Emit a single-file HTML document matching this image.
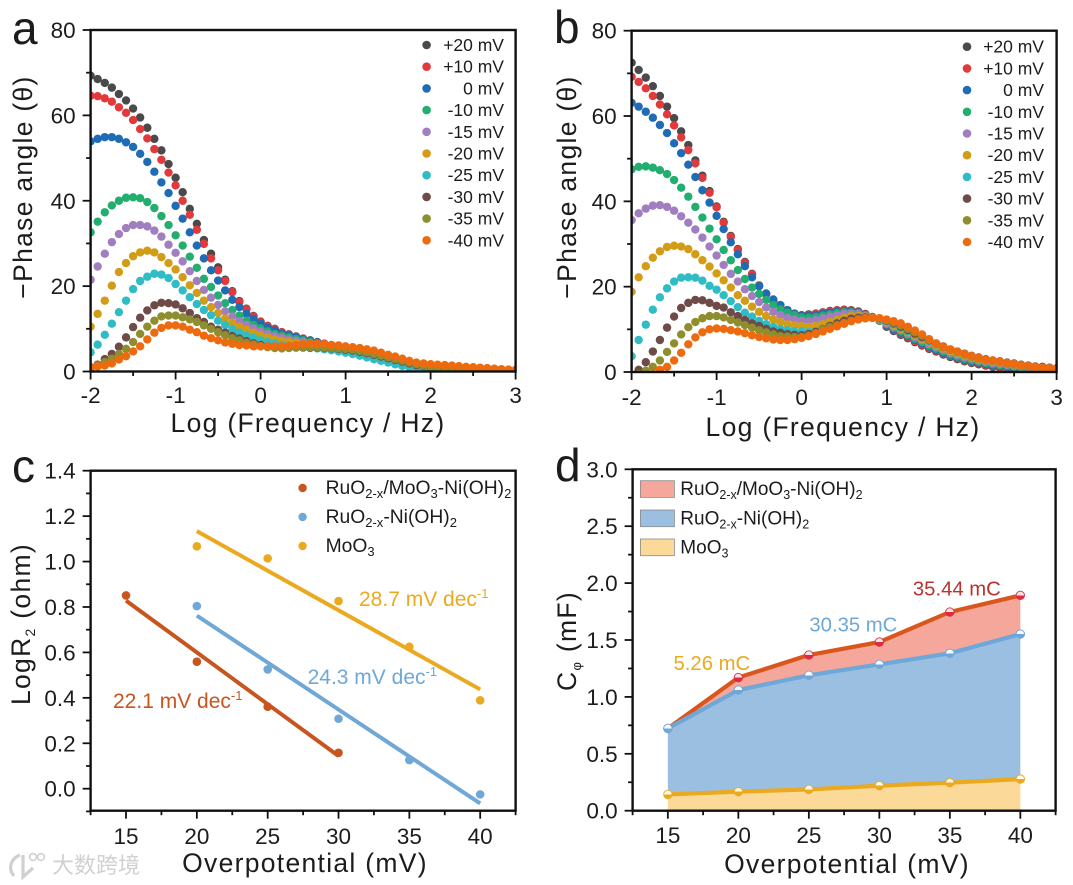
<!DOCTYPE html>
<html lang="en">
<head>
<meta charset="utf-8">
<title>Phase angle and capacitance charts</title>
<style>
html,body{margin:0;padding:0;background:#fff;}
svg{display:block;font-family:"Liberation Sans","Noto Sans CJK SC",sans-serif;fill:#1c1c1c;}
.tick-label{font-size:22.5px;}
.title{font-size:26.5px;letter-spacing:1.3px;}
.panel-letter{font-size:46px;}
.legend-small{font-size:17.5px;}
.legend-big{font-size:19.3px;}
.note{font-size:21px;}
.note-d{font-size:20.3px;}
</style>
</head>
<body>
<svg id="figure" xmlns="http://www.w3.org/2000/svg" width="1073" height="885" viewBox="0 0 1073 885">
  <defs>
    <clipPath id="clip-a"><rect x="90.6" y="30" width="425" height="341.5"/></clipPath>
    <clipPath id="clip-b"><rect x="631.6" y="30.7" width="425" height="341.3"/></clipPath>
    <linearGradient id="half-red" x1="0" y1="0" x2="0" y2="1"><stop offset="0.5" stop-color="#fbe3e3"/><stop offset="0.5" stop-color="#dc2b45"/></linearGradient>
    <linearGradient id="half-blue" x1="0" y1="0" x2="0" y2="1"><stop offset="0.5" stop-color="#f6fafd"/><stop offset="0.5" stop-color="#6fa8d8"/></linearGradient>
    <linearGradient id="half-yellow" x1="0" y1="0" x2="0" y2="1"><stop offset="0.5" stop-color="#fff8e6"/><stop offset="0.5" stop-color="#eba91f"/></linearGradient>
  </defs>

  <text class="panel-letter" x="12" y="44">a</text>
  <text class="panel-letter" x="554" y="43">b</text>
  <text class="panel-letter" x="12" y="482">c</text>
  <text class="panel-letter" x="555" y="481">d</text>

  <text class="title" text-anchor="middle" transform="translate(32 187) rotate(-90)">−Phase angle (θ)</text>
  <text class="title" text-anchor="middle" transform="translate(576 187) rotate(-90)">−Phase angle (θ)</text>
  <text class="title" text-anchor="middle" x="308" y="432">Log (Frequency / Hz)</text>
  <text class="title" text-anchor="middle" x="843" y="436">Log (Frequency / Hz)</text>

  <text class="title" text-anchor="middle" transform="translate(30 624) rotate(-90)">LogR<tspan font-size="14" dy="5">2</tspan><tspan dy="-5"> (ohm)</tspan></text>
  <text class="title" text-anchor="middle" x="305" y="872">Overpotential (mV)</text>
  <text class="title" text-anchor="middle" transform="translate(576 641) rotate(-90)">C<tspan font-size="13" dy="5">φ</tspan><tspan dy="-5"> (mF)</tspan></text>
  <text class="title" text-anchor="middle" x="847" y="873">Overpotential (mV)</text>

  <g id="legend-c">
    <text class="legend-big" x="325.6" y="494">RuO<tspan font-size="13" dy="4">2-x</tspan><tspan dy="-4">/MoO</tspan><tspan font-size="13" dy="4">3</tspan><tspan dy="-4">-Ni(OH)</tspan><tspan font-size="13" dy="4">2</tspan></text>
    <text class="legend-big" x="325.6" y="523">RuO<tspan font-size="13" dy="4">2-x</tspan><tspan dy="-4">-Ni(OH)</tspan><tspan font-size="13" dy="4">2</tspan></text>
    <text class="legend-big" x="325.6" y="552">MoO<tspan font-size="13" dy="4">3</tspan></text>
    <circle cx="302.6" cy="488" r="4.2" fill="#c8541e"/>
    <circle cx="302.6" cy="517" r="4.2" fill="#6fa8d6"/>
    <circle cx="302.6" cy="546" r="4.2" fill="#eba91f"/>
  </g>
  <text class="note" x="359" y="606" style="fill:#eba91f">28.7 mV dec<tspan font-size="13" dy="-8">-1</tspan></text>
  <text class="note" x="307.6" y="684" style="fill:#6fa8d6">24.3 mV dec<tspan font-size="13" dy="-8">-1</tspan></text>
  <text class="note" x="113" y="708" style="fill:#c8541e">22.1 mV dec<tspan font-size="13" dy="-8">-1</tspan></text>

  <g id="watermark">
    <path d="M20 855 C10 859 8 869 14 876 M23 855 L23 877 L33 868" fill="none" stroke="#d0d0d0" stroke-width="3.2"/>
    <circle cx="33" cy="857" r="3.4" fill="none" stroke="#d0d0d0" stroke-width="1.6"/>
    <circle cx="41" cy="857" r="3.4" fill="none" stroke="#d0d0d0" stroke-width="1.6"/>
    <text x="52" y="873" font-size="22" style="fill:#d0d0d0">大数跨境</text>
  </g>
</svg>

<script>
const logFrequency = [-2,-1.917,-1.833,-1.75,-1.667,-1.583,-1.5,-1.417,-1.333,-1.25,-1.167,-1.083,-1,-0.917,-0.833,-0.75,-0.667,-0.583,-0.5,-0.417,-0.333,-0.25,-0.167,-0.083,0,0.083,0.167,0.25,0.333,0.417,0.5,0.583,0.667,0.75,0.833,0.917,1,1.083,1.167,1.25,1.333,1.417,1.5,1.583,1.667,1.75,1.833,1.917,2,2.083,2.167,2.25,2.333,2.417,2.5,2.583,2.667,2.75,2.833,2.917,3];
const seriesLabels = ['+20 mV','+10 mV','0 mV','-10 mV','-15 mV','-20 mV','-25 mV','-30 mV','-35 mV','-40 mV'];
const seriesColors = ['#4a4a4a','#e23a3c','#1f6bb5','#22ae6e','#a07ec0','#d29c16','#2fbcc4','#6e4a48','#8e8e2e','#ee6a0f'];

const phaseA_p20 = [69.3,68.5,67.6,66.5,65,63.5,61.6,59.5,57.1,54.5,51.8,48.6,45.4,42,38.1,34.6,30.8,27.6,24.4,21.5,18.8,16.5,14.7,13,11.7,10.7,10,9.2,8.7,8.2,7.7,7.3,6.9,6.5,6.2,5.9,5.6,5.3,5,4.6,4.2,3.8,3.4,3,2.6,2.2,1.8,1.5,1.2,1,0.8,0.6,0.5,0.4,0.3,0.2,0.1,0.1,0.05,0,0];
const phaseA_p10 = [64.6,64.5,64,63.2,61.9,60.6,58.9,56.8,54.6,52.1,49.6,46.6,43.6,40,36.7,33.2,29.9,26.5,23.7,21.2,18.6,16.3,14.6,12.9,11.6,10.6,9.9,9.2,8.6,8.1,7.7,7.2,6.8,6.5,6.1,5.8,5.5,5.2,4.9,4.5,4.1,3.7,3.3,2.9,2.5,2.1,1.7,1.4,1.1,0.9,0.7,0.6,0.4,0.3,0.2,0.2,0.1,0.1,0,0,0];
const phaseA_0 = [53.9,54.5,54.9,54.9,54.5,53.7,52.6,51,49.1,46.8,44.3,41.8,38.8,35.8,32.6,29.5,26.5,23.7,21.3,19,16.8,15.1,13.5,12.3,11.2,10.2,9.6,8.8,8.4,8,7.6,7.2,6.8,6.4,6.1,5.8,5.4,5.1,4.7,4.3,3.9,3.5,3.1,2.7,2.3,1.9,1.6,1.3,1,0.8,0.6,0.5,0.4,0.3,0.2,0.1,0.1,0,0,0,0];
const phaseA_m10 = [32.6,35.1,37.3,38.9,40,40.7,40.8,40.6,39.7,38.3,36.4,34.3,31.9,29.5,26.9,24.3,21.7,19.8,17.8,16,14.4,13.1,11.9,10.9,10.1,9.4,8.8,8.4,8,7.6,7.3,6.9,6.6,6.2,5.9,5.6,5.2,4.9,4.5,4.1,3.7,3.3,2.9,2.5,2.1,1.7,1.4,1.1,0.9,0.7,0.5,0.4,0.3,0.2,0.1,0.1,0,0,0,0,0];
const phaseA_m15 = [21.5,24.6,27.6,30.3,32.2,33.6,34.3,34.3,34,33,31.6,29.7,27.8,25.8,23.5,21.2,19.1,17.3,15.6,14.1,12.9,11.8,10.9,10.1,9.4,8.8,8.3,7.9,7.5,7.2,6.9,6.6,6.3,6,5.7,5.4,5,4.7,4.3,3.9,3.5,3.1,2.7,2.3,1.9,1.6,1.3,1,0.8,0.6,0.5,0.4,0.3,0.2,0.1,0.1,0,0,0,0,0];
const phaseA_m20 = [10.5,13.5,16.6,20.1,23.3,25.4,27,27.9,28.3,27.9,26.8,25.4,23.9,22.1,20.2,18.4,16.6,15.1,13.7,12.4,11.4,10.5,9.8,9.1,8.5,8,7.5,7.2,6.9,6.7,6.4,6.2,6,5.7,5.5,5.2,4.8,4.5,4.1,3.7,3.3,2.9,2.5,2.1,1.7,1.4,1.1,0.9,0.7,0.5,0.4,0.3,0.2,0.2,0.1,0.1,0,0,0,0,0];
const phaseA_m25 = [4.5,6.3,8.6,11.2,13.9,16.6,19.3,21.2,22.2,22.9,22.7,21.9,20.5,19,17.4,15.8,14.4,13.2,11.9,10.9,9.9,9.1,8.4,7.9,7.3,6.9,6.6,6.2,6,5.8,5.7,5.5,5.4,5.2,5,4.7,4.4,4.1,3.7,3.3,2.9,2.5,2.1,1.7,1.3,1,0.8,0.6,0.4,0.3,0.2,0.2,0.1,0.1,0.1,0,0,0,0,0,0];
const phaseA_m30 = [1,1.6,2.9,4.1,5.8,8,10.4,12.6,14.3,15.5,16.1,16,15.7,14.8,13.7,12.5,11.6,10.5,9.8,9.1,8.3,7.7,7.1,6.6,6.2,5.9,5.8,5.6,5.6,5.6,5.6,5.6,5.6,5.5,5.4,5.3,5.1,4.9,4.6,4.3,3.9,3.5,3.1,2.7,2.3,1.9,1.5,1.3,1.1,0.9,0.8,0.7,0.6,0.5,0.4,0.3,0.2,0.2,0.1,0.1,0.1];
const phaseA_m35 = [0.6,1.4,2.2,3,4.1,5.3,6.9,8.8,10.5,11.9,12.9,13.1,13.1,12.7,12.2,11.6,10.8,10,9.2,8.5,7.8,7.3,6.7,6.3,5.9,5.7,5.5,5.4,5.5,5.6,5.7,5.7,5.7,5.6,5.5,5.4,5.3,5.1,4.8,4.5,4.1,3.7,3.3,2.9,2.5,2.1,1.7,1.4,1.2,1,0.9,0.8,0.7,0.6,0.5,0.4,0.3,0.3,0.2,0.2,0.2];
const phaseA_m40 = [1,1.2,1.4,1.9,2.8,3.6,4.7,5.9,7.5,9.1,10.2,10.8,10.8,10.5,9.8,9.2,8.4,7.8,7.3,6.8,6.5,6.2,6.1,5.9,5.9,5.9,5.9,5.9,6,6.2,6.4,6.5,6.5,6.4,6.2,6.1,5.9,5.7,5.5,5.2,4.9,4.4,3.9,3.5,3,2.5,2.1,1.9,1.7,1.6,1.5,1.4,1.25,1.1,1,0.9,0.8,0.65,0.55,0.45,0.4];

const phaseB_p20 = [72.5,70.8,69,67,64.7,62.2,59.5,56.4,53.2,49.6,46,42.4,38.8,35.2,31.9,28.8,25.8,23,20.3,18.3,16.8,15.6,14.5,13.7,13.3,13.5,13.7,14,14.3,14.5,14.6,14.5,14.2,13.6,12.9,12,10.6,9.6,8.7,7.9,7,6.2,5.4,4.8,4.1,3.5,3,2.5,2.1,1.8,1.5,1.2,1,0.9,0.8,0.6,0.5,0.3,0.2,0.1,0.1];
const phaseB_p10 = [69.2,68,66.5,64.7,62.7,60.4,57.8,55,52,48.9,45.5,42,38.6,35,31.7,28.6,25.6,22.9,20.2,18.2,16.7,15.5,14.4,13.6,13.2,13.3,13.6,13.9,14.2,14.4,14.5,14.4,14.1,13.5,12.8,12,10.8,9.8,8.9,8.1,7.2,6.4,5.6,5,4.3,3.7,3.2,2.7,2.3,2,1.7,1.4,1.2,1,0.9,0.7,0.6,0.4,0.3,0.2,0.2];
const phaseB_0 = [63.1,62.2,61,59.6,57.9,56,53.6,51.3,48.6,45.7,42.6,39.7,36.6,33.5,30.4,27.6,24.8,22.2,20.1,18.4,17,15.7,14.5,13.6,13.1,13.1,13.3,13.6,13.9,14.1,14.2,14.2,14,13.4,12.8,12.1,11,10,9.2,8.4,7.5,6.7,5.9,5.2,4.5,3.9,3.4,2.9,2.5,2.2,1.9,1.6,1.4,1.2,1,0.8,0.7,0.5,0.4,0.3,0.3];
const phaseB_m10 = [47.5,48.1,48.2,47.9,47.3,46.4,45,43.2,41.1,38.7,36.2,33.6,31.1,28.6,26.2,23.9,21.8,19.8,18.3,16.9,15.7,14.7,13.9,13.3,12.8,12.7,12.9,13.2,13.5,13.8,14,14,13.8,13.3,12.8,12.1,11.2,10.3,9.5,8.7,7.8,7,6.2,5.5,4.8,4.1,3.6,3.1,2.7,2.4,2.1,1.8,1.6,1.4,1.2,1,0.8,0.7,0.6,0.5,0.4];
const phaseB_m15 = [35.6,37.2,38.3,39,39.1,38.7,37.8,36.5,35,33.4,31.5,29.4,27.3,25.1,23,21.2,19.4,17.8,16.4,15.1,14.1,13.3,12.7,12.3,12,11.9,12.2,12.6,13,13.3,13.6,13.7,13.6,13.2,12.8,12.2,11.4,10.6,9.8,9,8.2,7.4,6.6,5.9,5.2,4.5,4,3.5,3.1,2.7,2.4,2.1,1.9,1.7,1.5,1.3,1.1,0.9,0.8,0.7,0.6];
const phaseB_m20 = [18.8,22.2,24.8,26.8,28.3,29.3,29.6,29.4,28.8,27.6,26.2,24.7,23.1,21.5,19.8,18,16.7,15.3,14.1,13.1,12.3,11.7,11.2,10.9,10.8,10.6,10.8,11.2,11.7,12.2,12.7,13.1,13.2,13,12.7,12.3,11.6,10.9,10.1,9.3,8.5,7.7,6.9,6.2,5.5,4.8,4.3,3.8,3.4,3,2.7,2.4,2.2,2,1.7,1.5,1.3,1.1,1,0.9,0.7];
const phaseB_m25 = [3.7,7.5,11.1,14.6,17.5,19.6,21.2,22.1,22.2,22.1,21.4,20.2,19.3,18,16.6,15.2,13.9,13,12,11.2,10.6,10.1,9.8,9.6,9.5,9.4,9.6,10.1,10.7,11.3,11.9,12.4,12.8,12.8,12.7,12.4,11.8,11.2,10.4,9.6,8.8,8,7.2,6.5,5.8,5.1,4.6,4.1,3.6,3.2,2.9,2.6,2.4,2.1,1.9,1.6,1.4,1.2,1.1,1,0.8];
const phaseB_m30 = [-0.8,0.5,2.3,4.8,7.5,10.4,13,15,16.2,16.9,16.8,16.2,15.5,15.1,14,13.1,12.2,11.4,10.8,10.1,9.5,9.2,8.9,8.7,8.6,8.9,9.4,10.1,10.8,11.4,12,12.5,12.7,12.8,12.7,12.5,12,11.4,10.6,9.8,9,8.2,7.4,6.7,6,5.3,4.8,4.3,3.8,3.4,3,2.7,2.5,2.2,2,1.7,1.5,1.3,1.2,1,0.9];
const phaseB_m35 = [-1.5,-0.5,0.3,1.2,2.7,4.7,6.7,8.8,10.5,11.7,12.6,13.1,13.1,12.8,12.2,11.6,11,10.4,9.8,9.3,8.8,8.4,8.3,8.2,8.2,8.5,9.1,10,10.5,11,11.5,12,12.4,12.6,12.7,12.5,12.1,11.6,10.9,10.1,9.3,8.5,7.5,6.6,5.8,5.2,4.7,4.1,3.6,3.2,2.8,2.6,2.3,2,1.8,1.5,1.3,1.1,1,0.9,0.8];
const phaseB_m40 = [-3,-2.2,-1.4,-0.5,0.5,1.2,2.7,4.5,6.5,8.1,9.3,10,10.2,10.1,9.8,9.5,9.1,8.6,8.2,7.9,7.6,7.5,7.5,7.7,8,8.4,8.9,9.5,10.1,10.7,11.3,11.9,12.3,12.6,12.7,12.6,12.3,11.9,11.4,10.6,9.7,8.8,7.7,6.7,5.9,5.3,4.8,4.2,3.7,3.3,2.9,2.7,2.4,2.1,1.9,1.6,1.4,1.2,1,0.9,0.9];

const freqTicks = [-2,-1,0,1,2,3];
const freqTickLabels = ['-2','-1','0','1','2','3'];
const freqMinorTicks = [-1.5,-0.5,0.5,1.5,2.5];
const phaseTicks = [0,20,40,60,80];
const phaseTickLabels = ['0','20','40','60','80'];
const phaseMinorTicks = [10,30,50,70];

const potentialTicks = [15,20,25,30,35,40];
const potentialTickLabels = ['15','20','25','30','35','40'];
const potentialMinorTicks = [12.5,17.5,22.5,27.5,32.5,37.5,42.5];

const logRTicks = [0,0.2,0.4,0.6,0.8,1.0,1.2,1.4];
const logRTickLabels = ['0.0','0.2','0.4','0.6','0.8','1.0','1.2','1.4'];
const logRMinorTicks = [-0.1,0.1,0.3,0.5,0.7,0.9,1.1,1.3];

const compositePotentials = [15,20,25,30];
const compositeLogR = [0.851,0.559,0.361,0.158];
const compositeFitPotentials = [15,30];
const compositeFit = [0.828,0.144];
const ruo2Potentials = [20,25,30,35,40];
const ruo2LogR = [0.804,0.525,0.308,0.126,-0.025];
const ruo2FitPotentials = [20,40];
const ruo2Fit = [0.762,-0.065];
const moo3Potentials = [20,25,30,35,40];
const moo3LogR = [1.067,1.014,0.826,0.625,0.389];
const moo3FitPotentials = [20,40];
const moo3Fit = [1.134,0.437];

const capTicks = [0,0.5,1.0,1.5,2.0,2.5,3.0];
const capTickLabels = ['0.0','0.5','1.0','1.5','2.0','2.5','3.0'];
const capMinorTicks = [0.25,0.75,1.25,1.75,2.25,2.75];
const capPotentials = [15,20,25,30,35,40];
const capMoo3 = [0.143,0.167,0.187,0.22,0.246,0.278];
const capRuo2 = [0.723,1.06,1.19,1.286,1.383,1.552];
const capComposite = [0.723,1.17,1.368,1.482,1.746,1.892];

const capLegendLabels = ['RuO2-x/MoO3-Ni(OH)2','RuO2-x-Ni(OH)2','MoO3'];
const chargeLabels = ['5.26 mC','30.35 mC','35.44 mC'];

const svgNS = 'http://www.w3.org/2000/svg';
const root = document.getElementById('figure');

function make(tag, attrs, parent) {
  const node = document.createElementNS(svgNS, tag);
  for (const key in attrs) node.setAttribute(key, attrs[key]);
  (parent || root).appendChild(node);
  return node;
}

function linear(d0, d1, r0, r1) {
  return function (v) { return r0 + (v - d0) * (r1 - r0) / (d1 - d0); };
}

function drawAxes(box, sx, sy, xMajor, xLabels, xMinor, yMajor, yLabels, yMinor, labelY, panel) {
  const g = make('g', {});
  
  
  const frame = make('rect', {x: box.l, y: box.t, width: box.r - box.l, height: box.b - box.t, fill: 'none', stroke: '#111', 'stroke-width': 2.4}, g);
  
  
  xMajor.forEach(function (v, i) {
    const t = make('line', {x1: sx(v), x2: sx(v), y1: box.b, y2: box.b + 8, stroke: '#111', 'stroke-width': 1.8}, g);
    
    
    const lab = make('text', {x: sx(v), y: labelY, 'text-anchor': 'middle', class: 'tick-label'}, g);
    lab.textContent = xLabels[i];
    
    
  });
  xMinor.forEach(function (v) {
    const t = make('line', {x1: sx(v), x2: sx(v), y1: box.b, y2: box.b + 4.5, stroke: '#111', 'stroke-width': 1.8}, g);
    
    
  });
  yMajor.forEach(function (v, i) {
    const t = make('line', {x1: box.l - 8, x2: box.l, y1: sy(v), y2: sy(v), stroke: '#111', 'stroke-width': 1.8}, g);
    
    
    const lab = make('text', {x: box.l - 15, y: sy(v) + 8, 'text-anchor': 'end', class: 'tick-label'}, g);
    lab.textContent = yLabels[i];
    
    
  });
  yMinor.forEach(function (v) {
    const t = make('line', {x1: box.l - 4.5, x2: box.l, y1: sy(v), y2: sy(v), stroke: '#111', 'stroke-width': 1.8}, g);
    
    
  });
}

function drawPhasePanel(panel, box, clipId, allSeries, legendX, legendTextX, legendYs, labelY) {
  const sx = linear(-2, 3, box.l, box.r);
  const sy = linear(0, 80, box.b, box.t);
  const plot = make('g', {'clip-path': 'url(#' + clipId + ')'});
  
  
  allSeries.forEach(function (values, s) {
    const g = make('g', {fill: seriesColors[s]}, plot);
    
    
    values.forEach(function (v, i) {
      const dot = make('circle', {cx: sx(logFrequency[i]), cy: sy(v), r: 4.2}, g);
      
      
    });
  });
  drawAxes(box, sx, sy, freqTicks, freqTickLabels, freqMinorTicks, phaseTicks, phaseTickLabels, phaseMinorTicks, labelY, panel);
  seriesLabels.forEach(function (label, s) {
    const dot = make('circle', {cx: legendX, cy: legendYs(s), r: 4.3, fill: seriesColors[s]});
    
    
    const t = make('text', {x: legendTextX, y: legendYs(s) + 6, 'text-anchor': 'end', class: 'legend-small'});
    t.textContent = label;
    
    
  });
}

drawPhasePanel('a', {l: 90.6, r: 515.6, t: 30, b: 371.5}, 'clip-a',
  [phaseA_p20, phaseA_p10, phaseA_0, phaseA_m10, phaseA_m15, phaseA_m20, phaseA_m25, phaseA_m30, phaseA_m35, phaseA_m40],
  426.6, 504, function (s) { return 45 + s * 21.7; }, 403);
drawPhasePanel('b', {l: 631.6, r: 1056.6, t: 30.7, b: 372}, 'clip-b',
  [phaseB_p20, phaseB_p10, phaseB_0, phaseB_m10, phaseB_m15, phaseB_m20, phaseB_m25, phaseB_m30, phaseB_m35, phaseB_m40],
  967, 1044, function (s) { return 46.7 + s * 21.7; }, 405);

/* Panel c */
const boxC = {l: 90.6, r: 515.6, t: 470.7, b: 810.7};
const sxC = linear(12.5, 42.5, boxC.l, boxC.r);
const syC = linear(0, 1.4, 788.7, 470.7);

function drawFit(xs, ys, color, name) {
  const line = make('line', {x1: sxC(xs[0]), y1: syC(ys[0]), x2: sxC(xs[1]), y2: syC(ys[1]), stroke: color, 'stroke-width': 4});
  
  
}
function drawPoints(xs, ys, color, name) {
  ys.forEach(function (v, i) {
    const dot = make('circle', {cx: sxC(xs[i]), cy: syC(v), r: 4.3, fill: color});
    
    
  });
}
drawFit(compositeFitPotentials, compositeFit, '#c8541e', 'composite');
drawFit(ruo2FitPotentials, ruo2Fit, '#6fa8d6', 'ruo2');
drawFit(moo3FitPotentials, moo3Fit, '#eba91f', 'moo3');
drawPoints(compositePotentials, compositeLogR, '#c8541e', 'composite');
drawPoints(ruo2Potentials, ruo2LogR, '#6fa8d6', 'ruo2');
drawPoints(moo3Potentials, moo3LogR, '#eba91f', 'moo3');
drawAxes(boxC, sxC, syC, potentialTicks, potentialTickLabels, potentialMinorTicks, logRTicks, logRTickLabels, logRMinorTicks, 844, 'c');

/* Panel d */
const boxD = {l: 632.6, r: 1055.6, t: 469.3, b: 810.7};
const sxD = linear(12.5, 42.5, boxD.l, boxD.r);
const syD = linear(0, 3, boxD.b, boxD.t);

function bandPath(upper, lower) {
  let d = '';
  upper.forEach(function (v, i) { d += (i ? 'L' : 'M') + sxD(capPotentials[i]) + ' ' + syD(v) + ' '; });
  for (let i = lower.length - 1; i >= 0; i--) d += 'L' + sxD(capPotentials[i]) + ' ' + syD(lower[i]) + ' ';
  return d + 'Z';
}
function linePath(values) {
  let d = '';
  values.forEach(function (v, i) { d += (i ? 'L' : 'M') + sxD(capPotentials[i]) + ' ' + syD(v) + ' '; });
  return d;
}
const capZero = capMoo3.map(function () { return 0; });

const bandComposite = make('path', {d: bandPath(capComposite, capRuo2), fill: '#f4a79a'});


const bandRuo2 = make('path', {d: bandPath(capRuo2, capMoo3), fill: '#9bbfe0'});


const bandMoo3 = make('path', {d: bandPath(capMoo3, capZero), fill: '#fbd998'});



const lineComposite = make('path', {d: linePath(capComposite), fill: 'none', stroke: '#d9571c', 'stroke-width': 4.2, 'stroke-linejoin': 'round', 'stroke-linecap': 'round'});


const lineRuo2 = make('path', {d: linePath(capRuo2), fill: 'none', stroke: '#6fa8d8', 'stroke-width': 4.2, 'stroke-linejoin': 'round', 'stroke-linecap': 'round'});


const lineMoo3 = make('path', {d: linePath(capMoo3), fill: 'none', stroke: '#eba91f', 'stroke-width': 4.2, 'stroke-linejoin': 'round', 'stroke-linecap': 'round'});



capComposite.forEach(function (v, i) {
  const m = make('circle', {cx: sxD(capPotentials[i]), cy: syD(v), r: 4.2, fill: 'url(#half-red)', stroke: '#dc2b45', 'stroke-width': 0.9});
  
  
});
capRuo2.forEach(function (v, i) {
  const m = make('circle', {cx: sxD(capPotentials[i]), cy: syD(v), r: 4.2, fill: 'url(#half-blue)', stroke: '#6fa8d8', 'stroke-width': 0.9});
  
  
});
capMoo3.forEach(function (v, i) {
  const m = make('circle', {cx: sxD(capPotentials[i]), cy: syD(v), r: 4.2, fill: 'url(#half-yellow)', stroke: '#eba91f', 'stroke-width': 0.9});
  
  
});
drawAxes(boxD, sxD, syD, potentialTicks, potentialTickLabels, potentialMinorTicks, capTicks, capTickLabels, capMinorTicks, 843, 'd');

function addSubscripted(parent, label) {
  label.split(/(2-x|(?<=O)3|(?<=\))2)/).forEach(function (part, i) {
    const span = make('tspan', {}, parent);
    span.textContent = part;
    if (i % 2) {
      span.setAttribute('font-size', '12.5');
      span.setAttribute('dy', '4');
    } else if (i) {
      span.setAttribute('dy', '-4');
    }
  });
}
const swatchFills = ['#f4a79a', '#9bbfe0', '#fbd998'];
const swatchTops = [480.7, 510, 539];
capLegendLabels.forEach(function (label, i) {
  const sw = make('rect', {x: 640.4, y: swatchTops[i], width: 34, height: 16.7, fill: swatchFills[i], stroke: '#8a8a8a', 'stroke-width': 0.8});
  
  
  const t = make('text', {x: 680.3, y: swatchTops[i] + 14.5, 'font-size': '19', style: 'font-size:19px'});
  addSubscripted(t, label);
  
  
});

const chargeColors = ['#eba91f', '#6fa8d6', '#b8332f'];
const chargeXs = [673.5, 809.4, 912.9];
const chargeYs = [670, 631.7, 595.7];
chargeLabels.forEach(function (label, i) {
  const t = make('text', {x: chargeXs[i], y: chargeYs[i], class: 'note-d', style: 'fill:' + chargeColors[i]});
  t.textContent = label;
  
  
});
</script>
</body>
</html>
